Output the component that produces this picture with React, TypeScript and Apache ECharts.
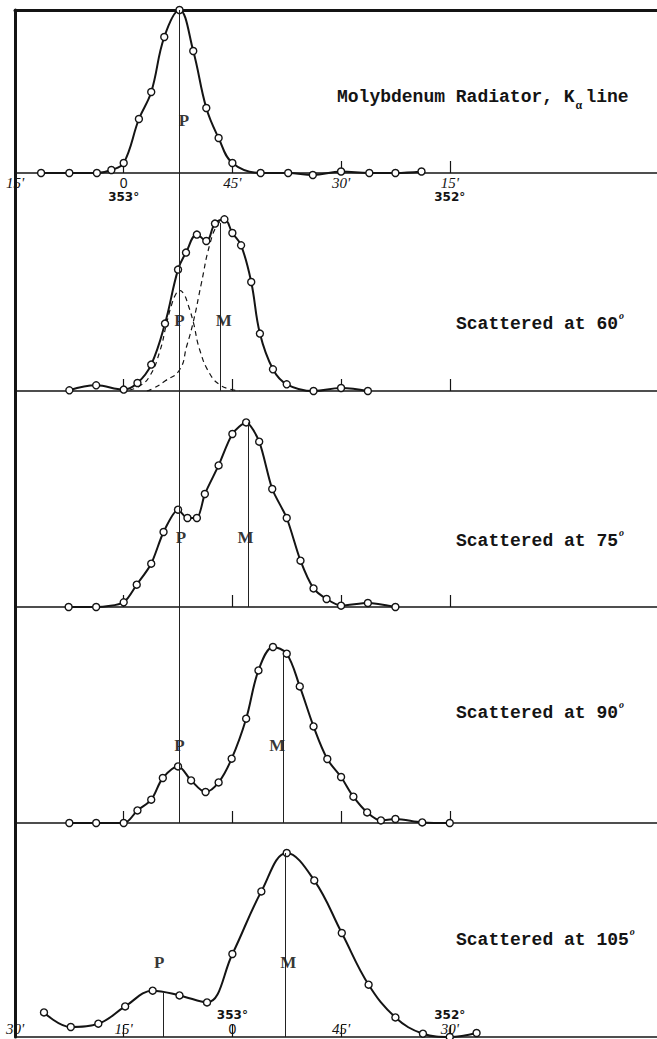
import React, { useEffect, useRef } from "react";
import * as echarts from "echarts";

// Angle readings: minutes of arc past 353°00' (increasing to the right = smaller angle)
// Panel 1: Molybdenum radiator, K-alpha line
const angle1 = [-11.4, -7.5, -3.7, -1.7, 0, 2.1, 3.8, 5.6, 7.7, 9.6, 11.4, 13.1, 15.0, 18.9, 22.7, 26.1, 30.0, 33.9, 37.5, 41.1];
const counts1 = [0, 0, 0, 3, 10, 54, 81, 136, 163, 122, 65, 35, 10, 0, 0, -2, 1.5, 0, 0, 1.5];

// Panel 2: scattered at 60°
const angle2 = [-7.5, -3.8, 0, 1.9, 3.8, 5.7, 7.5, 8.6, 10.1, 11.4, 12.6, 13.9, 15.0, 16.2, 17.6, 18.8, 20.6, 22.5, 26.2, 30.0, 33.7];
const counts2 = [0.7, 5.7, 1.4, 8, 26.4, 67.4, 121.4, 138.4, 156.4, 150, 167.4, 171.7, 158, 145.7, 109, 57.4, 21.7, 6.7, 0, 3, 0];
// dashed components (unmodified P and modified M)
const angle2P = [0.8, 2.2, 3.6, 5.0, 5.9, 6.6, 7.2, 7.7, 8.3, 8.9, 9.6, 10.5, 11.9, 13.3, 14.6, 16.0];
const counts2P = [1, 5, 15, 40, 67, 86, 97, 100.7, 97, 86, 69, 41, 17, 6, 2, 0];
const angle2M = [3.2, 4.2, 5.7, 7.7, 8.7, 9.6, 10.7, 11.9, 13.0, 13.9];
const counts2M = [0, 3, 10, 21, 45, 69, 107, 147, 167, 171.7];

// Panel 3: scattered at 75°
const angle3 = [-7.6, -3.8, 0, 1.8, 3.8, 5.5, 7.5, 8.8, 10.1, 11.2, 13.1, 15.0, 16.9, 18.7, 20.5, 22.5, 24.4, 26.2, 28.0, 30.0, 33.7, 37.5];
const counts3 = [0, 0, 4.7, 22.3, 43.3, 75, 97.3, 89, 89, 113, 141.6, 173, 184.6, 165.3, 118, 89, 46.3, 18.6, 8, 1.3, 4, 0];

// Panel 4: scattered at 90°
const angle4 = [-7.5, -3.8, 0, 1.9, 3.8, 5.4, 7.5, 9.3, 11.3, 13.1, 14.9, 16.9, 18.6, 20.6, 22.5, 24.3, 26.2, 28.1, 30.0, 31.7, 33.6, 35.5, 37.5, 41.2, 45.0];
const counts4 = [0, 0, 0, 12.6, 23.3, 45, 56.6, 42.6, 31, 40.6, 64.3, 104.3, 152.6, 176, 169.3, 136.6, 96.6, 64, 46, 26.3, 10.6, 2.6, 4, 0.6, 0];

// Panel 5: scattered at 105° (own angle scale)
const angle5 = [-26.0, -22.3, -18.5, -14.8, -11.0, -7.3, -3.5, 0, 4.0, 7.5, 11.3, 15.1, 18.8, 22.5, 26.3, 30.0, 33.7];
const counts5 = [24.6, 10, 13.3, 30.6, 46.3, 41.6, 34.6, 83, 145.6, 184, 156.6, 104, 52.3, 19.6, 3.3, 0, 4];

// Reference lines (P = unmodified, M = modified)
const pLineAngle = 7.6;
const mLineAngle = [13.3, 17.2, 22.0];
const mLineTop = [168, 184.6, 172];
const pLine5 = [-9.6, 44];
const mLine5 = [7.3, 184];

// P / M label positions [angle, height]
const labelP = [[8.3, 53], [7.7, 71], [7.9, 70], [7.7, 78], [-10.1, 75]];
const labelM = [null, [13.8, 71], [16.8, 70], [21.2, 78], [7.7, 75]];

// Tick labels
const tickVals1 = [-15, 0, 15, 30, 45];
const tickText1 = ["{m|15'}", "{u|0}\n{d|353°}", "{m|45'}", "{m|30'}", "{m|15'}\n{d|352°}"];
const tickVals5 = [-30, -15, 0, 15, 30];
const tickText5 = ["{m|30'}", "{m|15'}", "{d|353°}\n{u|0}", "{m|45'}", "{d|352°}\n{m|30'}"];

const titleHead = ["Molybdenum Radiator, K", "Scattered at 60", "Scattered at 75", "Scattered at 90", "Scattered at 105"];

const INK = "#141414";
const SPAN = 88.6;

const zip = (a: number[], b: number[]) => a.map((v, i) => [v, b[i]]);

function buildOption() {
  const panels = [
    { top: 10, height: 163, min: -15, data: zip(angle1, counts1), smooth: 0.4, ticks: [0, 15, 30, 45] },
    { top: 173, height: 218, min: -15, data: zip(angle2, counts2), smooth: 0.4, ticks: [0, 15, 30, 45] },
    { top: 391, height: 216, min: -15, data: zip(angle3, counts3), smooth: 0.25, ticks: [0, 15, 30, 45] },
    { top: 607, height: 216, min: -15, data: zip(angle4, counts4), smooth: 0.35, ticks: [0, 15, 30, 45] },
    { top: 823, height: 214, min: -30, data: zip(angle5, counts5), smooth: 0.4, ticks: [-15, 0, 15, 30] },
  ];
  const rich = {
    m: { fontFamily: '"Liberation Serif", serif', fontStyle: "italic", fontSize: 15, color: INK, lineHeight: 14 },
    u: { fontFamily: '"Liberation Sans", sans-serif', fontSize: 14, color: INK, lineHeight: 14 },
    d: { fontFamily: '"DejaVu Sans", sans-serif', fontSize: 12, fontWeight: "bold", color: INK, lineHeight: 14 },
  };
  const grid: any[] = [];
  const xAxis: any[] = [];
  const yAxis: any[] = [];
  const series: any[] = [];
  panels.forEach((p, i) => {
    grid.push({ left: 15, right: 0, top: p.top, height: p.height });
    let axisLabel: any = { show: false };
    if (i === 0) {
      axisLabel = {
        show: true, customValues: tickVals1, margin: 3, rich,
        formatter: (v: number) => { const k = tickVals1.indexOf(v); return k < 0 ? "" : tickText1[k]; },
      };
    } else if (i === 4) {
      axisLabel = {
        show: true, inside: true, customValues: tickVals5, margin: 1, rich,
        formatter: (v: number) => { const k = tickVals5.indexOf(v); return k < 0 ? "" : tickText5[k]; },
      };
    }
    xAxis.push({
      gridIndex: i, type: "value", min: p.min, max: p.min + SPAN, position: "bottom",
      axisLine: { show: true, onZero: false, lineStyle: { color: INK, width: 1.5 } },
      axisTick: { show: true, inside: true, length: 12, customValues: p.ticks, lineStyle: { color: INK, width: 1.2 } },
      axisLabel, splitLine: { show: false },
    });
    yAxis.push({
      gridIndex: i, type: "value", min: 0, max: p.height,
      axisLine: { show: true, onZero: false, lineStyle: { color: INK, width: 3 } },
      axisTick: { show: false }, axisLabel: { show: false }, splitLine: { show: false },
    });
    const ml: any[] = [];
    if (i < 4) ml.push([{ coord: [pLineAngle, 0] }, { coord: [pLineAngle, p.height] }]);
    if (i >= 1 && i <= 3) ml.push([{ coord: [mLineAngle[i - 1], 0] }, { coord: [mLineAngle[i - 1], mLineTop[i - 1]] }]);
    if (i === 4) {
      ml.push([{ coord: [pLine5[0], 0] }, { coord: [pLine5[0], pLine5[1]] }]);
      ml.push([{ coord: [mLine5[0], 0] }, { coord: [mLine5[0], mLine5[1]] }]);
    }
    series.push({
      type: "line", xAxisIndex: i, yAxisIndex: i, data: p.data, smooth: p.smooth,
      symbol: "circle", symbolSize: 7, showSymbol: true, clip: false, z: 3,
      itemStyle: { color: "#fff", borderColor: INK, borderWidth: 1.4 },
      lineStyle: { color: INK, width: 2 },
      markLine: {
        silent: true, symbol: ["none", "none"], label: { show: false },
        lineStyle: { type: "solid", color: "#222", width: 1 }, data: ml,
      },
    });
    const lab: any[] = [{ value: labelP[i], name: "P" }];
    if (labelM[i]) lab.push({ value: labelM[i], name: "M" });
    series.push({
      type: "scatter", xAxisIndex: i, yAxisIndex: i, data: lab, symbolSize: 1, z: 4,
      itemStyle: { color: "rgba(0,0,0,0)" },
      label: {
        show: true, position: "inside", formatter: "{b}", color: "#000",
        fontFamily: '"Liberation Serif", serif', fontWeight: "bold", fontSize: 17,
      },
    });
  });
  // dashed component curves in panel 2
  series.push({
    type: "line", xAxisIndex: 1, yAxisIndex: 1, data: zip(angle2P, counts2P), smooth: 0.5, symbol: "none",
    lineStyle: { color: INK, width: 1.2, type: [5, 4] }, z: 2,
  });
  series.push({
    type: "line", xAxisIndex: 1, yAxisIndex: 1, data: zip(angle2M, counts2M), smooth: 0.5, symbol: "none",
    lineStyle: { color: INK, width: 1.2, type: [5, 4] }, z: 2,
  });
  // top frame line
  xAxis.push({
    gridIndex: 0, type: "value", min: -15, max: -15 + SPAN, position: "top",
    axisLine: { show: true, onZero: false, lineStyle: { color: INK, width: 3 } },
    axisTick: { show: false }, axisLabel: { show: false }, splitLine: { show: false },
  });

  const titleY = [97, 324, 541, 713, 940];
  const titleX = [337, 456, 456, 456, 456];
  const CH = 10.8;
  const titleStyle = { fill: INK, fontFamily: '"Liberation Mono", monospace', fontWeight: "bold", fontSize: 18, verticalAlign: "middle", align: "left" };
  const graphic: any[] = titleHead.map((t, i) => ({
    type: "text", x: titleX[i], y: titleY[i], z: 10, style: { ...titleStyle, text: t },
  }));
  graphic.push({ type: "text", x: titleX[0] + 23 * CH, y: titleY[0], z: 10, style: { ...titleStyle, text: "line" } });
  graphic.push({
    type: "text", x: titleX[0] + 22 * CH + 1, y: titleY[0] + 8, z: 10,
    style: { text: "α", fill: INK, fontFamily: '"Liberation Serif", serif', fontWeight: "bold", fontSize: 12, verticalAlign: "middle" },
  });
  [1, 2, 3, 4].forEach((i) => {
    const n = titleHead[i].length;
    graphic.push({
      type: "text", x: titleX[i] + n * CH + 1, y: titleY[i] - 9, z: 10,
      style: { text: "o", fill: INK, fontFamily: '"Liberation Serif", serif', fontStyle: "italic", fontWeight: "bold", fontSize: 10, verticalAlign: "middle" },
    });
  });

  return { animation: false, backgroundColor: "#fff", grid, xAxis, yAxis, series, graphic };
}

export default function App() {
  const ref = useRef<HTMLDivElement>(null);
  useEffect(() => {
    const chart = echarts.init(ref.current!, null, { renderer: "svg" });
    chart.setOption(buildOption() as any);
    return () => chart.dispose();
  }, []);
  return (
    <div
      ref={ref}
      style={{ position: "absolute", left: 0, top: 0, width: 657, height: 1039, background: "#fff" }}
    />
  );
}
